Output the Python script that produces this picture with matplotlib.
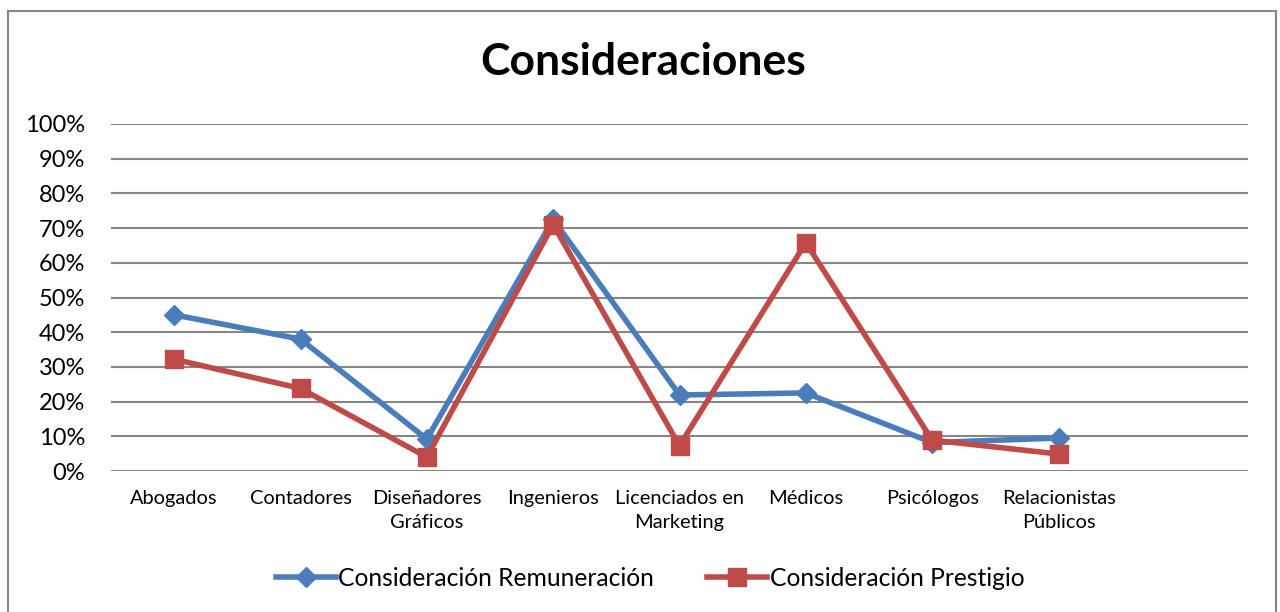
#!/usr/bin/env python

import matplotlib
matplotlib.use("Agg")
import matplotlib.pyplot as plt
from matplotlib.patches import Rectangle
from matplotlib.ticker import PercentFormatter

# Category labels (last slot is empty in the original chart)
categorias = ["Abogados", "Contadores", "Diseñadores\nGráficos", "Ingenieros",
              "Licenciados en\nMarketing", "Médicos", "Psicólogos",
              "Relacionistas\nPúblicos", ""]

remuneracion = [45.0, 38.0, 9.2, 72.5, 21.9, 22.5, 8.2, 9.5]
prestigio = [32.2, 23.8, 4.0, 71.0, 7.3, 65.8, 8.9, 4.9]

yticks = list(range(0, 101, 10))

AZUL = "#4A7EBB"
ROJO = "#BE4B48"
GRIS = "#868686"


def main():
    plt.rcParams['font.family'] = ['Lato', 'DejaVu Sans']

    fig = plt.figure(figsize=(12.8, 6.12), dpi=100)
    ax = fig.add_axes([111 / 1280, 1 - 471 / 612, (1248 - 111) / 1280, (471 - 124) / 612])

    # outer frame of the chart area
    fig.patches.append(Rectangle((8 / 1280, -0.05), (1276 - 8) / 1280, 1 - 11 / 612 + 0.05,
                                 transform=fig.transFigure, fill=False,
                                 edgecolor=GRIS, linewidth=1.5))

    x = list(range(len(remuneracion)))
    ax.plot(x, remuneracion, color=AZUL, lw=4, marker="D", ms=10,
            label="Consideración Remuneración", zorder=3)
    ax.plot(x, prestigio, color=ROJO, lw=4, marker="s", ms=13.5,
            label="Consideración Prestigio", zorder=4)

    ax.set_xlim(-0.5, len(categorias) - 0.5)
    ax.set_ylim(0, 100)
    ax.set_yticks(yticks)
    ax.yaxis.set_major_formatter(PercentFormatter(decimals=0))
    ax.set_xticks(range(len(categorias)))
    ax.set_xticklabels(categorias, fontsize=14.4, linespacing=1.5)
    ax.tick_params(axis="y", labelsize=17, length=0, pad=18.5)
    ax.tick_params(axis="x", length=0, pad=14)

    ax.grid(True, axis="y", color=GRIS, lw=1.5)
    ax.set_axisbelow(True)
    for s in ax.spines.values():
        s.set_visible(False)

    fig.text(643 / 1280, 1 - 62 / 612, "Consideraciones", ha="center", va="center",
             fontsize=32, fontweight="bold")

    fig.legend(loc="center", bbox_to_anchor=(650 / 1280, 1 - 578 / 612), ncol=2,
               frameon=False, fontsize=17.7, handlelength=2.45, columnspacing=2.15,
               handletextpad=0.1)

    fig.savefig("out.png", dpi=100)


if __name__ == "__main__":
    main()
